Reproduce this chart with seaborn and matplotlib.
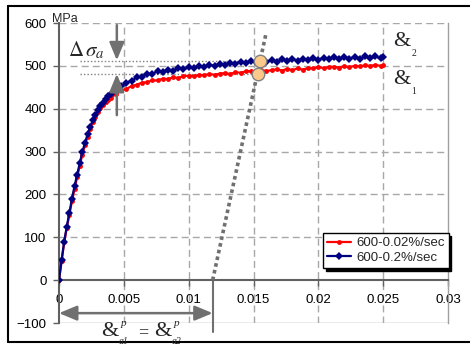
import matplotlib
matplotlib.use('Agg')
import matplotlib.pyplot as plt
import seaborn as sns
import pandas as pd
from matplotlib.lines import Line2D

# strain values shared by both tests
strain = [0, 0.0002, 0.0004, 0.0006, 0.0008, 0.001, 0.0012, 0.0014, 0.0016, 0.0018,
          0.002, 0.0022, 0.0024, 0.0026, 0.0028, 0.003, 0.0032, 0.0034, 0.0036, 0.0038,
          0.004, 0.0044, 0.0048, 0.0052, 0.0056, 0.006, 0.0064, 0.0068, 0.0072, 0.0076,
          0.008, 0.0084, 0.0088, 0.0092, 0.0096, 0.01, 0.0104, 0.0108, 0.0112, 0.0116,
          0.012, 0.0124, 0.0128, 0.0132, 0.0136, 0.014, 0.0144, 0.0148, 0.0152, 0.0156,
          0.016, 0.0164, 0.0168, 0.0172, 0.0176, 0.018, 0.0184, 0.0188, 0.0192, 0.0196,
          0.02, 0.0204, 0.0208, 0.0212, 0.0216, 0.022, 0.0224, 0.0228, 0.0232, 0.0236,
          0.024, 0.0244, 0.0248, 0.025]

# stress (MPa) at 600 C, 0.02%/sec
stress_slow = [0, 45, 88, 122, 153, 184, 213, 240, 267, 293,
               315, 334, 352, 368, 381, 392, 401, 409, 416, 421,
               426, 434, 443, 446, 453, 456, 461, 462, 466, 466,
               470, 469, 473, 472, 476, 477, 476, 479, 478, 481,
               479, 482, 483, 481, 485, 484, 487, 488, 486, 490,
               488, 490, 492, 489, 493, 490, 494, 491, 495, 494,
               497, 495, 497, 498, 496, 499, 497, 500, 499, 501,
               500, 502, 500, 501]

# stress (MPa) at 600 C, 0.2%/sec
stress_fast = [0, 46, 90, 125, 157, 190, 220, 246, 273, 299,
               320, 340, 357, 373, 386, 397, 406, 414, 422, 430,
               435, 446, 452, 461, 465, 473, 475, 481, 482, 487,
               485, 491, 489, 494, 492, 497, 495, 500, 498, 503,
               499, 505, 501, 507, 504, 510, 506, 512, 508, 513,
               509, 514, 509, 515, 511, 516, 512, 517, 513, 518,
               514, 519, 515, 520, 516, 521, 517, 521, 516, 522,
               518, 522, 518, 521]

labels = ['600-0.02%/sec', '600-0.2%/sec']

# offset line and intersection points
offset_line_x = [0.01185, 0.01597]
offset_line_y = [0, 576]
cross_x = [0.01553, 0.01531]
cross_y = [511, 481]

sns.set_theme(style='white')
plt.rcParams['font.family'] = ['Liberation Sans', 'DejaVu Sans']
plt.rcParams['mathtext.fontset'] = 'stix'

W, H = 470, 347
fig = plt.figure(figsize=(4.7, 3.47), dpi=100)
ax = fig.add_axes([59 / W, 1 - 323 / H, 389 / W, 300 / H])


def ptext(x, y, s, size, **kw):
    # text placed in pixel coordinates of the figure (y from top)
    fig.text(x / W, 1 - y / H, s, fontsize=size, ha='center', va='center', **kw)


grid_kw = dict(color='#a8a8a8', lw=1, linestyle=(0, (5, 3)), zorder=0)
for gx in [0.005, 0.01, 0.015, 0.02, 0.025]:
    ax.axvline(gx, **grid_kw)
for gy in [100, 200, 300, 400, 500, 600]:
    ax.axhline(gy, **grid_kw)

# dotted guide lines for delta sigma
ax.plot([0.0016, cross_x[0]], [cross_y[0], cross_y[0]], color='#808080', lw=1,
        linestyle=(0, (1, 1.5)), zorder=1)
ax.plot([0.0016, cross_x[1]], [cross_y[1], cross_y[1]], color='#808080', lw=1,
        linestyle=(0, (1, 1.5)), zorder=1)

df = pd.DataFrame({'strain': strain * 2,
                   'stress': stress_slow + stress_fast,
                   'test': [labels[0]] * len(strain) + [labels[1]] * len(strain)})
sns.lineplot(data=df[df.test == labels[0]], x='strain', y='stress', color='#ff0000',
             lw=1.6, marker='o', markersize=3.5, markeredgewidth=0, label=labels[0],
             ax=ax, zorder=3)
sns.lineplot(data=df[df.test == labels[1]], x='strain', y='stress', color='#000080',
             lw=1.6, marker='D', markersize=3.8, markeredgewidth=0, label=labels[1],
             ax=ax, zorder=4)

# offset line
ax.plot(offset_line_x, offset_line_y, color='#707070', lw=2.6, linestyle=(0, (1, 0.9)),
        dash_capstyle='butt', zorder=5)
ax.plot(cross_x, cross_y, 'o', markersize=9, markerfacecolor='#fcc98a',
        markeredgecolor='#808080', markeredgewidth=1, zorder=6, linestyle='none')

# arrows for delta sigma
arr = dict(arrowstyle='-|>,head_length=0.6,head_width=0.25', color='#707070', lw=1.8,
           mutation_scale=18, shrinkA=0, shrinkB=0)
ax.annotate('', xy=(0.00446, 513), xytext=(0.00446, 595), arrowprops=arr, zorder=7)
ax.annotate('', xy=(0.00446, 481), xytext=(0.00446, 385), arrowprops=arr, zorder=7)
ax.text(0.0007, 523, r'$\Delta\,\sigma_{a}$', fontsize=15, va='baseline', ha='left')

# plastic strain arrow
arr2 = dict(arrowstyle='<|-|>,head_length=0.6,head_width=0.25', color='#707070', lw=1.8,
            mutation_scale=18, shrinkA=0, shrinkB=0)
ax.annotate('', xy=(0, -77), xytext=(offset_line_x[0], -77), arrowprops=arr2,
            annotation_clip=False)
ax.plot([offset_line_x[0], offset_line_x[0]], [0, -120], color='#707070', lw=1.5,
        clip_on=False)

serif = ['Liberation Serif', 'DejaVu Serif']

# strain rate labels on the right
ptext(402, 41, '&', 16, family=serif)
ptext(414, 54, '2', 7, family=serif)
ptext(402, 79, '&', 16, family=serif)
ptext(414, 92, '1', 7, family=serif)

# plastic strain amplitude labels at the bottom
ptext(110, 331, '&', 16, family=serif)
ptext(123, 324, 'p', 8, family=serif, style='italic')
ptext(124, 342, 'a1', 7, family=serif, style='italic')
ptext(143, 333, '=', 13, family=serif)
ptext(163, 331, '&', 16, family=serif)
ptext(176, 324, 'p', 8, family=serif, style='italic')
ptext(177, 342, 'a2', 7, family=serif, style='italic')

ax.set_xlim(0, 0.03)
ax.set_ylim(-100, 600)
ax.set_xticks([0, 0.005, 0.01, 0.015, 0.02, 0.025, 0.03])
ax.set_xticklabels(['0', '0.005', '0.01', '0.015', '0.02', '0.025', '0.03'])
ax.set_yticks([-100, 0, 100, 200, 300, 400, 500, 600])
ax.set_xlabel('')
ax.set_ylabel('')
ax.tick_params(axis='both', labelsize=9.5, length=4, width=1, colors='#606060',
               labelcolor='black', direction='out')
ax.tick_params(axis='x', pad=6, bottom=True)
ax.tick_params(axis='y', pad=5, left=True)

ax.spines['bottom'].set_position(('data', 0))
ax.spines['bottom'].set_color('#606060')
ax.spines['bottom'].set_linewidth(1.5)
ax.spines['left'].set_color('#606060')
ax.spines['left'].set_linewidth(1.5)
ax.spines['right'].set_color('#a0a0a0')
ax.spines['right'].set_linewidth(1)
ax.spines['top'].set_visible(False)
ax.axhline(-100, color='#a0a0a0', lw=1, zorder=0)

leg = ax.legend(loc='upper left', bbox_to_anchor=(0.679, 0.30), borderaxespad=0,
                fontsize=9.5, frameon=True, fancybox=False, edgecolor='black',
                framealpha=1, handlelength=1.8, borderpad=0.3, labelspacing=0.2,
                handletextpad=0.4, shadow={'color': 'black', 'alpha': 1})
leg.get_frame().set_linewidth(1)

fig.text(52 / W, 1 - 19 / H, 'MPa', fontsize=9, va='center', ha='left')

# outer frame
fig.add_artist(Line2D([8 / W, 1], [1 - 6 / H, 1 - 6 / H], color='black', lw=1.5,
                      transform=fig.transFigure))
fig.add_artist(Line2D([8 / W, 8 / W], [1 - 6 / H, 1 - 342 / H], color='black',
                      lw=1.5, transform=fig.transFigure))
fig.add_artist(Line2D([8 / W, 1], [1 - 342 / H, 1 - 342 / H], color='black',
                      lw=1.5, transform=fig.transFigure))

fig.savefig('out.png', dpi=100)
